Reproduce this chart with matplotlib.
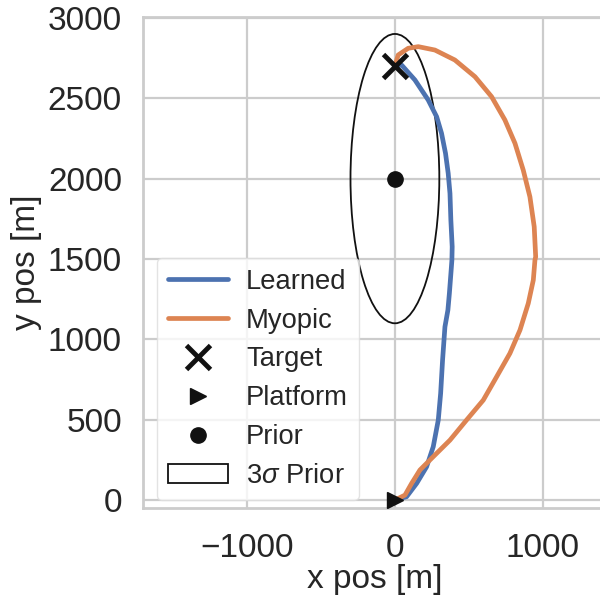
import numpy as np
import seaborn as sns
import matplotlib.pyplot as plt
from matplotlib.patches import Ellipse

# Trajectories (metres)
learned_x = [0, 79, 147, 214, 259, 293, 309, 322, 338, 358, 368, 380, 385, 387, 378, 372,
             360, 342, 315, 282, 225, 135, 45, 0]
learned_y = [0, 21, 104, 207, 332, 498, 664, 871, 1078, 1182, 1286, 1431, 1493, 1576, 1742, 1908,
             2033, 2157, 2282, 2385, 2489, 2614, 2707, 2700]

myopic_x = [0, 68, 113, 169, 259, 372, 484, 597, 687, 777, 845, 901, 935, 946, 951,
            941, 912, 867, 811, 743, 653, 541, 405, 270, 158, 90, 22, 0]
myopic_y = [0, 31, 104, 187, 270, 373, 498, 622, 767, 913, 1058, 1224, 1369, 1493, 1514,
            1701, 1887, 2053, 2220, 2365, 2510, 2634, 2738, 2800, 2821, 2811, 2769, 2700]

target = (0, 2700)
platform = (0, 0)
prior_mean = (0, 2000)
prior_3sigma = (600, 1800)  # full width, full height of ellipse

sns.set_theme(style="whitegrid", font="Liberation Sans")
plt.rcParams["font.family"] = ["Liberation Sans", "DejaVu Sans"]
plt.rcParams["mathtext.fontset"] = "custom"
plt.rcParams["mathtext.it"] = "Liberation Sans:italic"
plt.rcParams["mathtext.rm"] = "Liberation Sans"

fig = plt.figure(figsize=(6, 6.1), dpi=100)
ax = fig.add_axes([0.238, 0.167, 0.772, 0.805])

blue, orange = sns.color_palette("deep")[:2]
ax.plot(learned_x, learned_y, color=blue, lw=3.4, label="Learned", zorder=3,
        solid_joinstyle="round")
ax.plot(myopic_x, myopic_y, color=orange, lw=3.4, label="Myopic", zorder=3,
        solid_joinstyle="round")
ax.plot(*target, "x", color="#111111", ms=17, mew=3.5, label="Target", zorder=4)
ax.plot(*platform, ">", color="#111111", ms=12, label="Platform", zorder=4)
ax.plot(*prior_mean, "o", color="#111111", ms=11, label="Prior", zorder=4)
ell = Ellipse(prior_mean, prior_3sigma[0], prior_3sigma[1], facecolor="none",
              edgecolor="#111111", lw=1.3, label=r"3$\sigma$ Prior", zorder=2)
ax.add_patch(ell)

ax.set_xlim(-1703, 1426)
ax.set_ylim(-50, 3005)
ax.set_xticks([-1000, 0, 1000])
ax.set_yticks([0, 500, 1000, 1500, 2000, 2500, 3000])

for s in ax.spines.values():
    s.set_color("#cccccc")
    s.set_linewidth(2)
ax.grid(color="#cccccc", lw=1.6)
ax.tick_params(labelsize=24, colors="#262626", length=0)
ax.tick_params(axis="x", pad=18)
ax.tick_params(axis="y", pad=15)
ax.set_xlabel("x pos [m]", fontsize=24, color="#262626", labelpad=0)
ax.set_ylabel("y pos [m]", fontsize=24, color="#262626", labelpad=4)

leg = ax.legend(loc="lower left", bbox_to_anchor=(157 / 600, 1 - 500 / 610),
                bbox_transform=fig.transFigure, borderaxespad=0, fontsize=19.7,
                handlelength=2.2, handletextpad=0.65, labelspacing=0.47,
                frameon=True, fancybox=True)
leg.get_frame().set_edgecolor("#dddddd")
for t in leg.get_texts():
    t.set_color("#262626")

fig.savefig("out.png", dpi=100)
